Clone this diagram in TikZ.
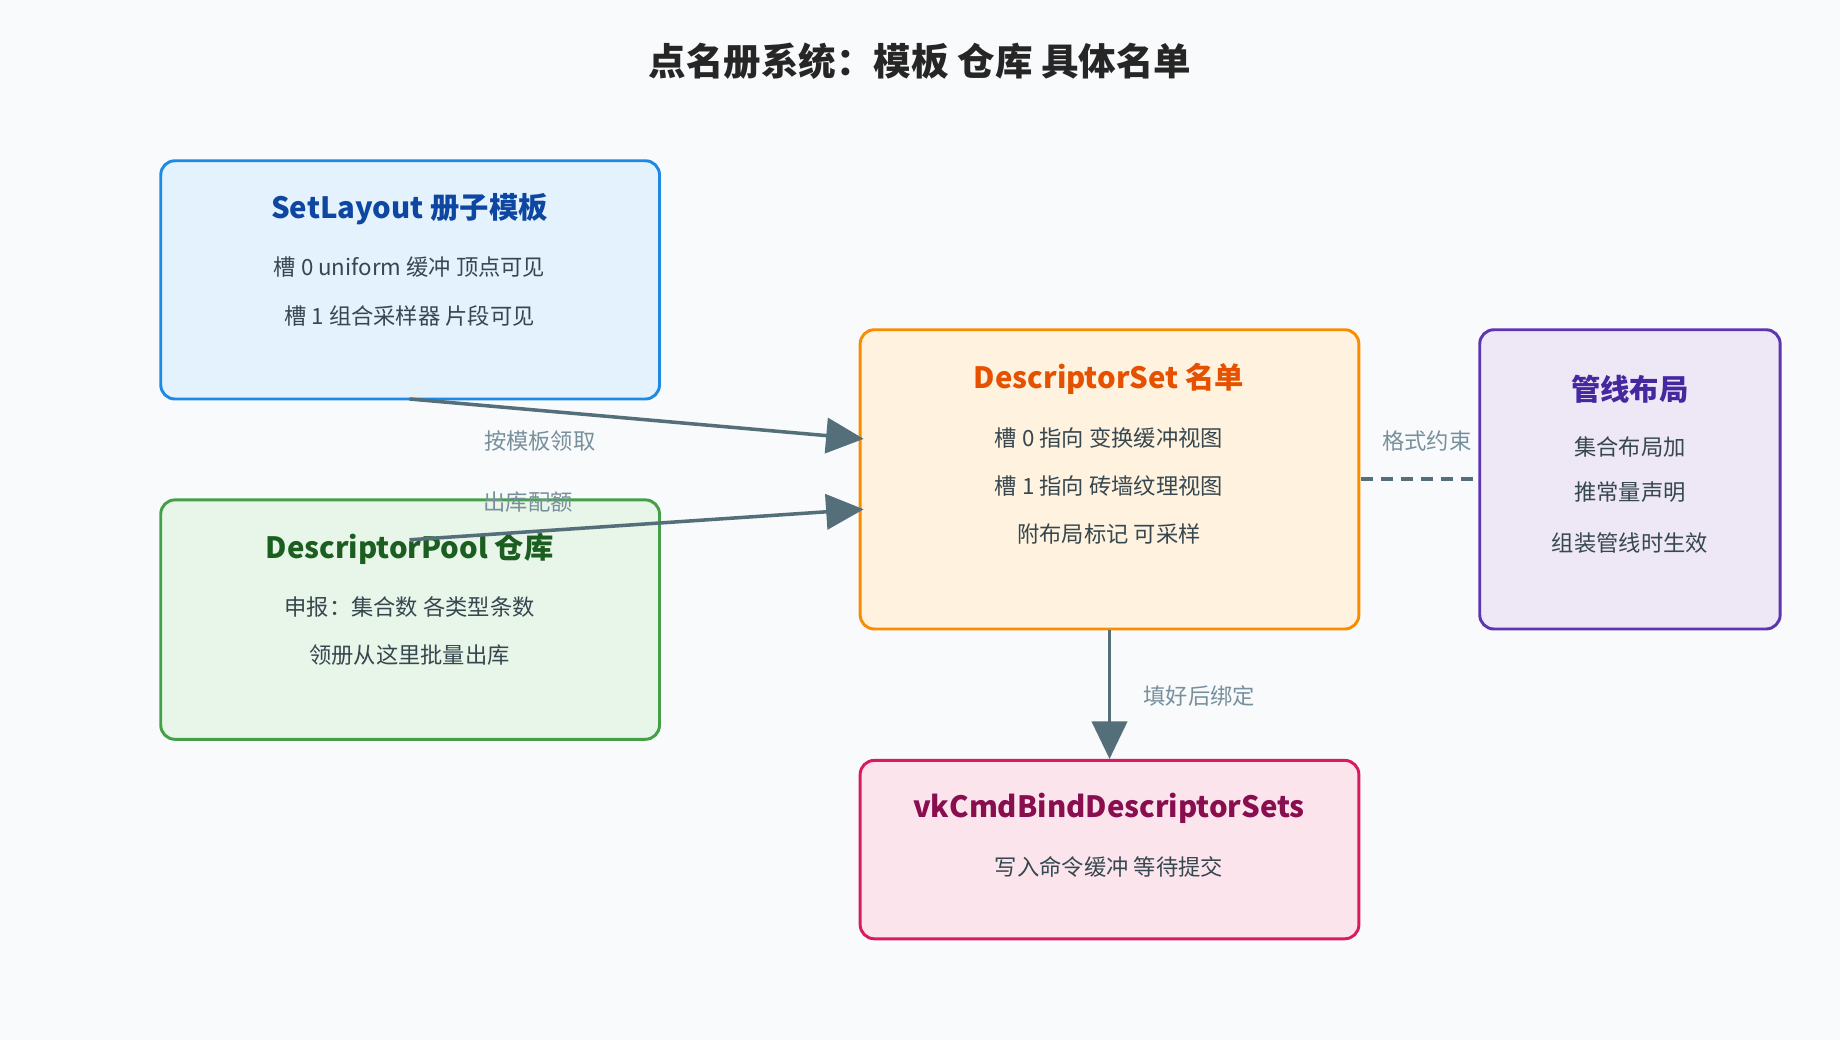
\documentclass[tikz,border=0pt]{standalone}
\usepackage{fontspec}
\setmainfont{Noto Sans CJK SC}
\usetikzlibrary{arrows.meta}
\definecolor{bg}{HTML}{F8FAFC}
\definecolor{ln}{HTML}{546E7A}
\definecolor{lb}{HTML}{78909C}
\definecolor{tx}{HTML}{37474F}
\begin{document}
\begin{tikzpicture}[x=1pt,y=-1pt,
 box/.style={line width=2.5pt,rounded corners=12pt},
 ttl/.style={font=\fontsize{25}{30}\selectfont\bfseries},
 bd/.style={font=\fontsize{19}{23}\selectfont,text=tx},
 lab/.style={font=\fontsize{19}{23}\selectfont,text=lb},
 arr/.style={draw=ln,line width=3pt,-{Triangle[length=32pt,width=30pt]}}]
\fill[bg] (0,0) rectangle (1568,886);
\useasboundingbox (0,0) rectangle (1568,886);
\node[font=\fontsize{32}{38}\selectfont\bfseries,text=black!85] (t) at (784,52) {点名册系统：模板 仓库 具体名单};
% boxes
\node[box,fill={rgb,255:red,227;green,242;blue,253},draw={rgb,255:red,30;green,136;blue,229},minimum width=425,minimum height=203] (sl) at (349.5,238.5) {};
\node[box,fill={rgb,255:red,232;green,245;blue,233},draw={rgb,255:red,67;green,160;blue,71},minimum width=425,minimum height=204] (dp) at (349.5,528) {};
\node[box,fill={rgb,255:red,255;green,243;blue,224},draw={rgb,255:red,251;green,140;blue,0},minimum width=425,minimum height=255] (ds) at (945.5,408.5) {};
\node[box,fill={rgb,255:red,237;green,231;blue,246},draw={rgb,255:red,94;green,53;blue,177},minimum width=256,minimum height=255] (pl) at (1389,408.5) {};
\node[box,fill={rgb,255:red,252;green,228;blue,236},draw={rgb,255:red,216;green,27;blue,96},minimum width=425,minimum height=152] (vk) at (945.5,724) {};
% texts
\node[ttl,text={rgb,255:red,13;green,71;blue,161}] (sl1) at (349,178) {SetLayout 册子模板};
\node[bd] (sl2) at (349,228) {槽 0 uniform 缓冲 顶点可见};
\node[bd] (sl3) at (349,269) {槽 1 组合采样器 片段可见};
\node[ttl,text={rgb,255:red,27;green,94;blue,32}] (dp1) at (349,468) {DescriptorPool 仓库};
\node[bd] (dp2) at (349,517) {申报：集合数 各类型条数};
\node[bd] (dp3) at (349,558) {领册从这里批量出库};
\node[ttl,text={rgb,255:red,230;green,81;blue,0}] (ds1) at (945,323) {DescriptorSet 名单};
\node[bd] (ds2) at (945,373) {槽 0 指向 变换缓冲视图};
\node[bd] (ds3) at (945,414) {槽 1 指向 砖墙纹理视图};
\node[bd] (ds4) at (945,455) {附布局标记 可采样};
\node[ttl,text={rgb,255:red,69;green,39;blue,160}] (pl1) at (1389,332) {管线布局};
\node[bd] (pl2) at (1389,381) {集合布局加};
\node[bd] (pl3) at (1389,419) {推常量声明};
\node[bd] (pl4) at (1389,463) {组装管线时生效};
\node[ttl,text={rgb,255:red,136;green,14;blue,79}] (vk1) at (945,689) {vkCmdBindDescriptorSets};
\node[bd] (vk2) at (945,739) {写入命令缓冲 等待提交};
% connectors
\coordinate (a1) at (349,340); \coordinate (a2) at (736,374);
\coordinate (b1) at (349,460); \coordinate (b2) at (736,434);
\draw[arr] (a1) -- (a2);
\draw[arr] (b1) -- (b2);
\node[lab] (l1) at (460,376) {按模板领取};
\node[lab] (l2) at (450,428) {出库配额};
\coordinate (c1) at (1160,408); \coordinate (c2) at (1259,408);
\draw[ln,line width=3pt,dash pattern=on 10pt off 7pt] (c1) -- (c2);
\node[lab] (l3) at (1216,376) {格式约束};
\draw[arr] (ds.south) -- (vk.north);
\node[lab] (l4) at (1022,593) {填好后绑定};
\end{tikzpicture}
\end{document}
